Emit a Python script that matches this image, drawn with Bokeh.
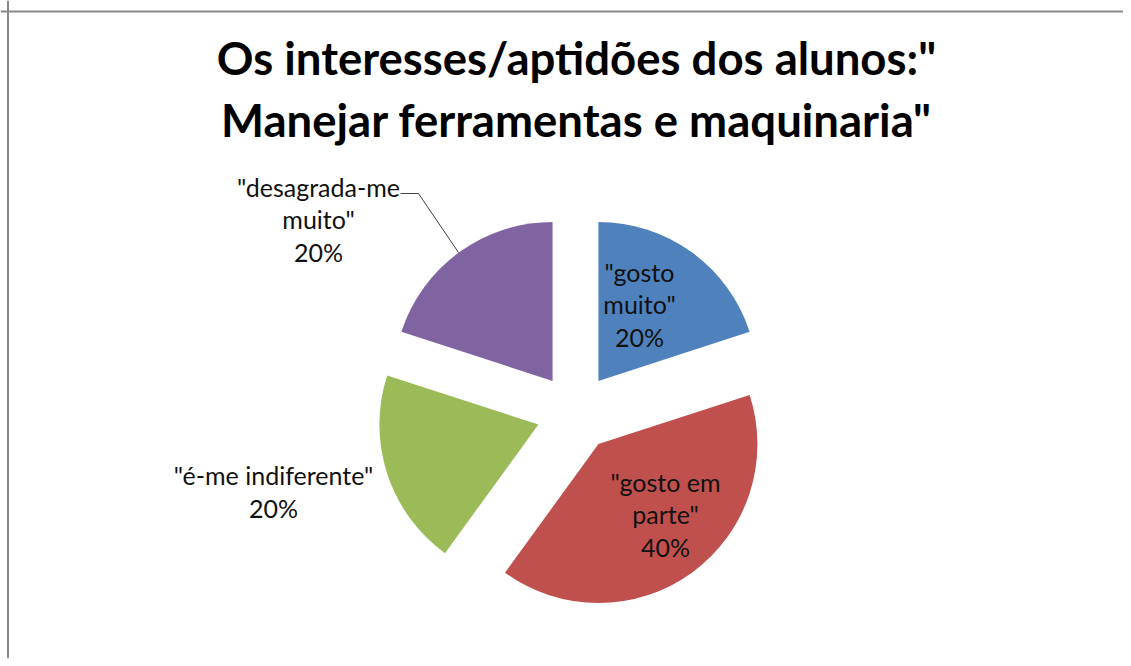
import math
from bokeh.plotting import figure
from bokeh.models import Range1d, Span
from bokeh.core.properties import value
from bokeh.embed import file_html
from bokeh.resources import INLINE

# ---- data ----
categories = ['"gosto muito"', '"gosto em parte"', '"é-me indiferente"', '"desagrada-me muito"']
values = [20, 40, 20, 20]
label_lines = [['"gosto', 'muito"'], ['"gosto em', 'parte"'], ['"é-me indiferente"'], ['"desagrada-me', 'muito"']]
colors = ["#4F81BD", "#C0504D", "#9BBB59", "#8064A2"]
title_lines = ['Os interesses/aptidões dos alunos:"', 'Manejar ferramentas e maquinaria"']

W, H = 1123, 658
def px(x):  # screen x -> data x
    return x
def py(y):  # screen y -> data y
    return H - y

p = figure(width=W, height=H, output_backend="svg", toolbar_location=None,
           x_range=Range1d(0, W), y_range=Range1d(0, H),
           x_axis_type=None, y_axis_type=None, min_border=0,
           background_fill_color="white", border_fill_color="white")
p.outline_line_color = None
p.xgrid.visible = False
p.ygrid.visible = False

# chart frame (left and top edges visible)
p.add_layout(Span(location=px(7.5), dimension="height", line_color="#888888", line_width=2))
p.add_layout(Span(location=py(11), dimension="width", line_color="#888888", line_width=2))

# ---- pie ----
cx, cy = px(575), py(412)
R = 159
explode = 39
total = sum(values)
start = math.pi / 2
xs, ys, sa, ea = [], [], [], []
for v in values:
    span = v / total * 2 * math.pi
    end = start - span
    mid = (start + end) / 2
    xs.append(cx + explode * math.cos(mid))
    ys.append(cy + explode * math.sin(mid))
    sa.append(start)
    ea.append(end)
    start = end
p.wedge(x=xs, y=ys, radius=R, start_angle=sa, end_angle=ea, direction="clock",
        fill_color=colors, line_color=None)

# ---- labels ----
pct = [f"{round(v / total * 100)}%" for v in values]
label_text = ["\n".join(lines + [pc]) for lines, pc in zip(label_lines, pct)]
lab_x = [px(639), px(665), px(273), px(318)]
lab_y = [py(304), py(514), py(491), py(219)]
p.text(x=lab_x, y=lab_y, text=label_text, text_align="center", text_baseline="middle",
       text_font=value("Lato"), text_font_size="25px", text_color="#111111",
       text_line_height=1.08)

# leader line for "desagrada-me muito"
p.line(x=[px(400), px(418), px(458)], y=[py(193), py(193), py(252)],
       line_color="#404040", line_width=1)

# ---- title ----
p.text(x=[px(576), px(576)], y=[py(57), py(119)], text=title_lines,
       text_align="center", text_baseline="middle",
       text_font=value("Lato"), text_font_style="bold", text_font_size="45.5px",
       text_color="#000000")

open("out.html", "w").write(file_html(p, INLINE))
